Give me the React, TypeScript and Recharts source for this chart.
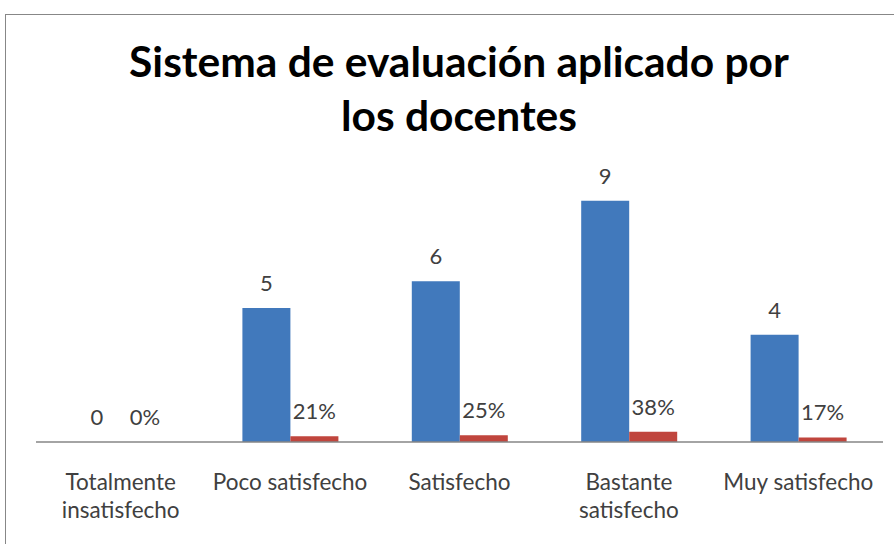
import React from 'react';
import { BarChart, Bar, XAxis, YAxis, LabelList } from 'recharts';

const categories = ['Totalmente\ninsatisfecho', 'Poco satisfecho', 'Satisfecho', 'Bastante\nsatisfecho', 'Muy satisfecho'];
const counts = [0, 5, 6, 9, 4];
const shares = [0, 0.21, 0.25, 0.38, 0.17];

const data = categories.map((name, i) => ({ name, count: counts[i], share: shares[i] }));

const FONT = 'Lato, "Open Sans", sans-serif';

const CategoryTick = ({ x, y, payload }: any) => {
  const lines = String(payload.value).split('\n');
  return (
    <text x={x} y={y} textAnchor="middle" fill="#404040" fontSize={22.5} fontFamily={FONT}>
      {lines.map((l, i) => (
        <tspan key={i} x={x} dy={i === 0 ? 40 : 28}>{l}</tspan>
      ))}
    </text>
  );
};

const valueLabel = (fmt: (v: number) => string) => (p: any) => {
  const x = Number(p.x) + Number(p.width) / 2;
  const y = Number(p.y) + Math.min(0, Number(p.height)) - 17;
  return (
    <text x={x} y={y} textAnchor="middle" fill="#404040" fontSize={22} fontFamily={FONT}>
      {fmt(Number(p.value))}
    </text>
  );
};

const App: React.FC = () => {
  return (
    <div style={{ position: 'absolute', left: 0, top: 0, width: 894, height: 544, overflow: 'hidden', background: '#fff' }}>
      <div style={{ position: 'absolute', left: 5, top: 14, width: 920, height: 560, border: '1.5px solid #878787', boxSizing: 'border-box' }} />
      <div style={{ position: 'absolute', left: 5, top: 34, width: 908, textAlign: 'center', fontFamily: FONT, fontWeight: 700, fontSize: 42.5, lineHeight: '54px', color: '#000' }}>
        Sistema de evaluación aplicado por<br />los docentes
      </div>
      <div style={{ position: 'absolute', left: 0, top: 0 }}>
        <BarChart width={894} height={544} data={data} margin={{ top: 174, right: 11, left: 36, bottom: 22 }} barCategoryGap={37} barGap={0}>
          <XAxis dataKey="name" height={80} axisLine={{ stroke: '#868686', strokeWidth: 1.5 }} tickLine={false} tick={<CategoryTick />} interval={0} />
          <YAxis hide domain={[0, 10]} />
          <Bar dataKey="count" fill="#4179BC" minPointSize={0.01} isAnimationActive={false}>
            <LabelList dataKey="count" content={valueLabel((v) => String(v))} />
          </Bar>
          <Bar dataKey="share" fill="#C0453D" minPointSize={0.01} isAnimationActive={false}>
            <LabelList dataKey="share" content={valueLabel((v) => `${Math.round(v * 100)}%`)} />
          </Bar>
        </BarChart>
      </div>
    </div>
  );
};

export default App;
